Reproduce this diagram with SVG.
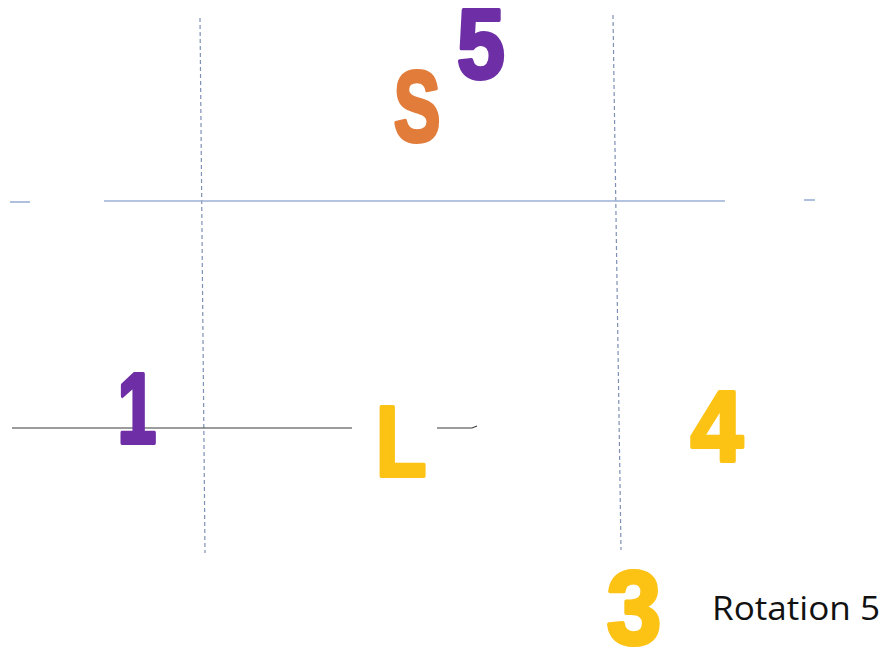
<svg xmlns="http://www.w3.org/2000/svg" width="889" height="655" viewBox="0 0 889 655">
<style>
.big{font-family:"Liberation Sans",Arial,sans-serif;font-weight:bold;font-size:100px;text-anchor:middle;stroke-width:4;stroke-linejoin:round}
.purple{fill:#6E2FA6;stroke:#6E2FA6}
.orange{fill:#E27C3A;stroke:#E27C3A}
.yellow{fill:#FCC214;stroke:#FCC214}
.vdash{stroke:#7E90B5;stroke-width:1.2;stroke-dasharray:4 3;fill:none}
.hblue{stroke:#9BB0D6;stroke-width:1.6;fill:none}
.hblack{stroke:#3A3A3A;stroke-width:1.1;fill:none}
.label{font-family:"Open Sans","Liberation Sans",sans-serif;font-size:33px;fill:#111}
</style>
<rect width="889" height="655" fill="#fff"/>
<g id="connectors">
<line class="vdash" x1="200" y1="18" x2="205" y2="553"/>
<line class="vdash" x1="613" y1="15" x2="621" y2="550"/>
<line class="hblue" x1="104" y1="201" x2="725" y2="201"/>
<line class="hblue" x1="10" y1="202" x2="30" y2="202"/>
<line class="hblue" x1="804" y1="200" x2="815" y2="200"/>
<line class="hblack" x1="12" y1="428" x2="352" y2="428"/>
<path class="hblack" d="M437 428 L472 428 L477 426"/>
</g>
<g id="node-5"><text class="big purple" transform="translate(481,78) scale(0.86,0.98)">5</text></g>
<g id="node-S"><text class="big orange" transform="translate(417,141) scale(0.7,1)">S</text></g>
<g id="node-1"><text class="big purple" transform="translate(137,443) scale(0.7,1)">1</text></g>
<g id="node-L"><text class="big yellow" transform="translate(401,476) scale(0.83,1)">L</text></g>
<g id="node-4"><text class="big yellow" transform="translate(717,461) scale(0.94,1)">4</text></g>
<g id="node-3"><text class="big yellow" transform="translate(634,644) scale(0.98,1.04)">3</text></g>
<g id="label"><text class="label" x="712" y="620" textLength="168" lengthAdjust="spacingAndGlyphs">Rotation 5</text></g>
</svg>
